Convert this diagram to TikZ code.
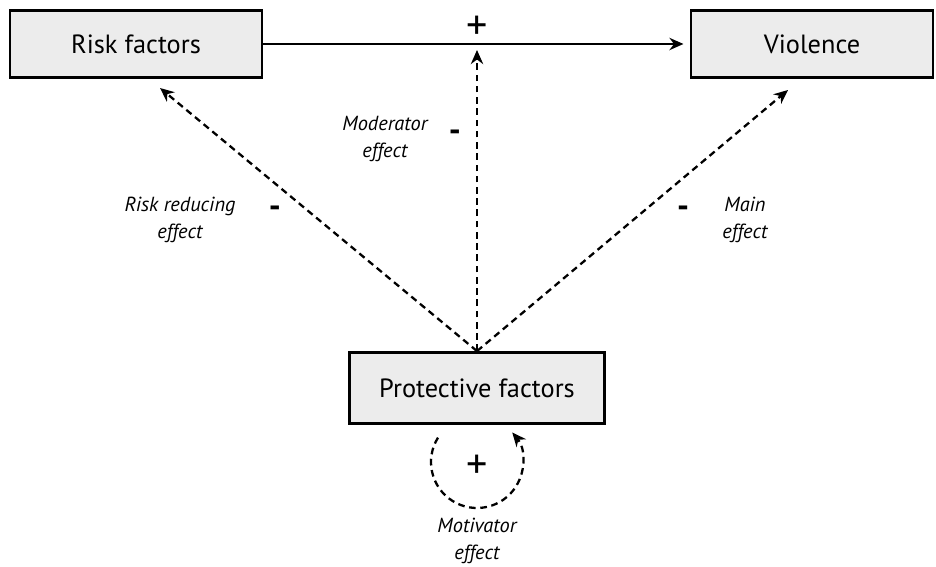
\documentclass[tikz,border=0pt]{standalone}
\usepackage{fontspec}
\setmainfont{PT Sans}
\usetikzlibrary{arrows.meta}
\begin{document}
\begin{tikzpicture}[x=0.02cm, y=-0.02cm, font=\fontsize{15}{18}\selectfont,
			box/.style={draw, line width=1.6pt, fill=gray!15, minimum height=1.34cm, inner sep=0pt},
			link/.style={line width=1.3pt, -{Stealth[length=8pt, width=7pt]}},
			dlink/.style={link, dash pattern=on 3.8pt off 2.6pt},
			effect/.style={font=\fontsize{11.6}{15}\selectfont\itshape, align=center},
			sign/.style={font=\fontsize{19}{19}\selectfont\bfseries, inner sep=0pt}]
			\useasboundingbox (0,0) rectangle (936,567);
			% boxes
			\node[box, minimum width=5.04cm] (risk) at (136,44) {Risk factors};
			\node[box, minimum width=4.84cm] (viol) at (812,44) {Violence};
			\node[box, minimum width=5.1cm, minimum height=1.42cm] (prot) at (477,388) {Protective factors};
			% arrow tips of the dashed links
			\coordinate (src)  at (prot.north);
			\coordinate (rtip) at (160,88);
			\coordinate (mtip) at (477,50);
			\coordinate (vtip) at (788,90);
			\coordinate (loopc) at (477,462);
			\draw[link, shorten >=3.5pt] (risk) -- (viol);
			\draw[dlink] (src) -- (rtip);
			\draw[dlink] (src) -- (mtip);
			\draw[dlink] (src) -- (vtip);
			\draw[dlink] ([shift={(148:0.92cm)}]loopc) arc[start angle=148, end angle=400, radius=0.92cm];
			% signs
			\node[sign, font=\fontsize{24}{24}\selectfont] (pmain) at (477,28)  {+};
			\node[sign] (mrisk) at (275,212) {-};
			\node[sign] (mmod)  at (455,136) {-};
			\node[sign] (mviol) at (683,212) {-};
			\node[sign, font=\fontsize{24}{24}\selectfont] (ploop) at (477,467) {+};
			% labels
			\node[effect] (lrisk) at (180,220) {Risk reducing\\effect};
			\node[effect] (lmod)  at (385,139) {Moderator\\effect};
			\node[effect] (lmain) at (745,220) {Main\\effect};
			\node[effect] (lloop) at (477,541) {Motivator\\effect};
		\end{tikzpicture}
\end{document}
